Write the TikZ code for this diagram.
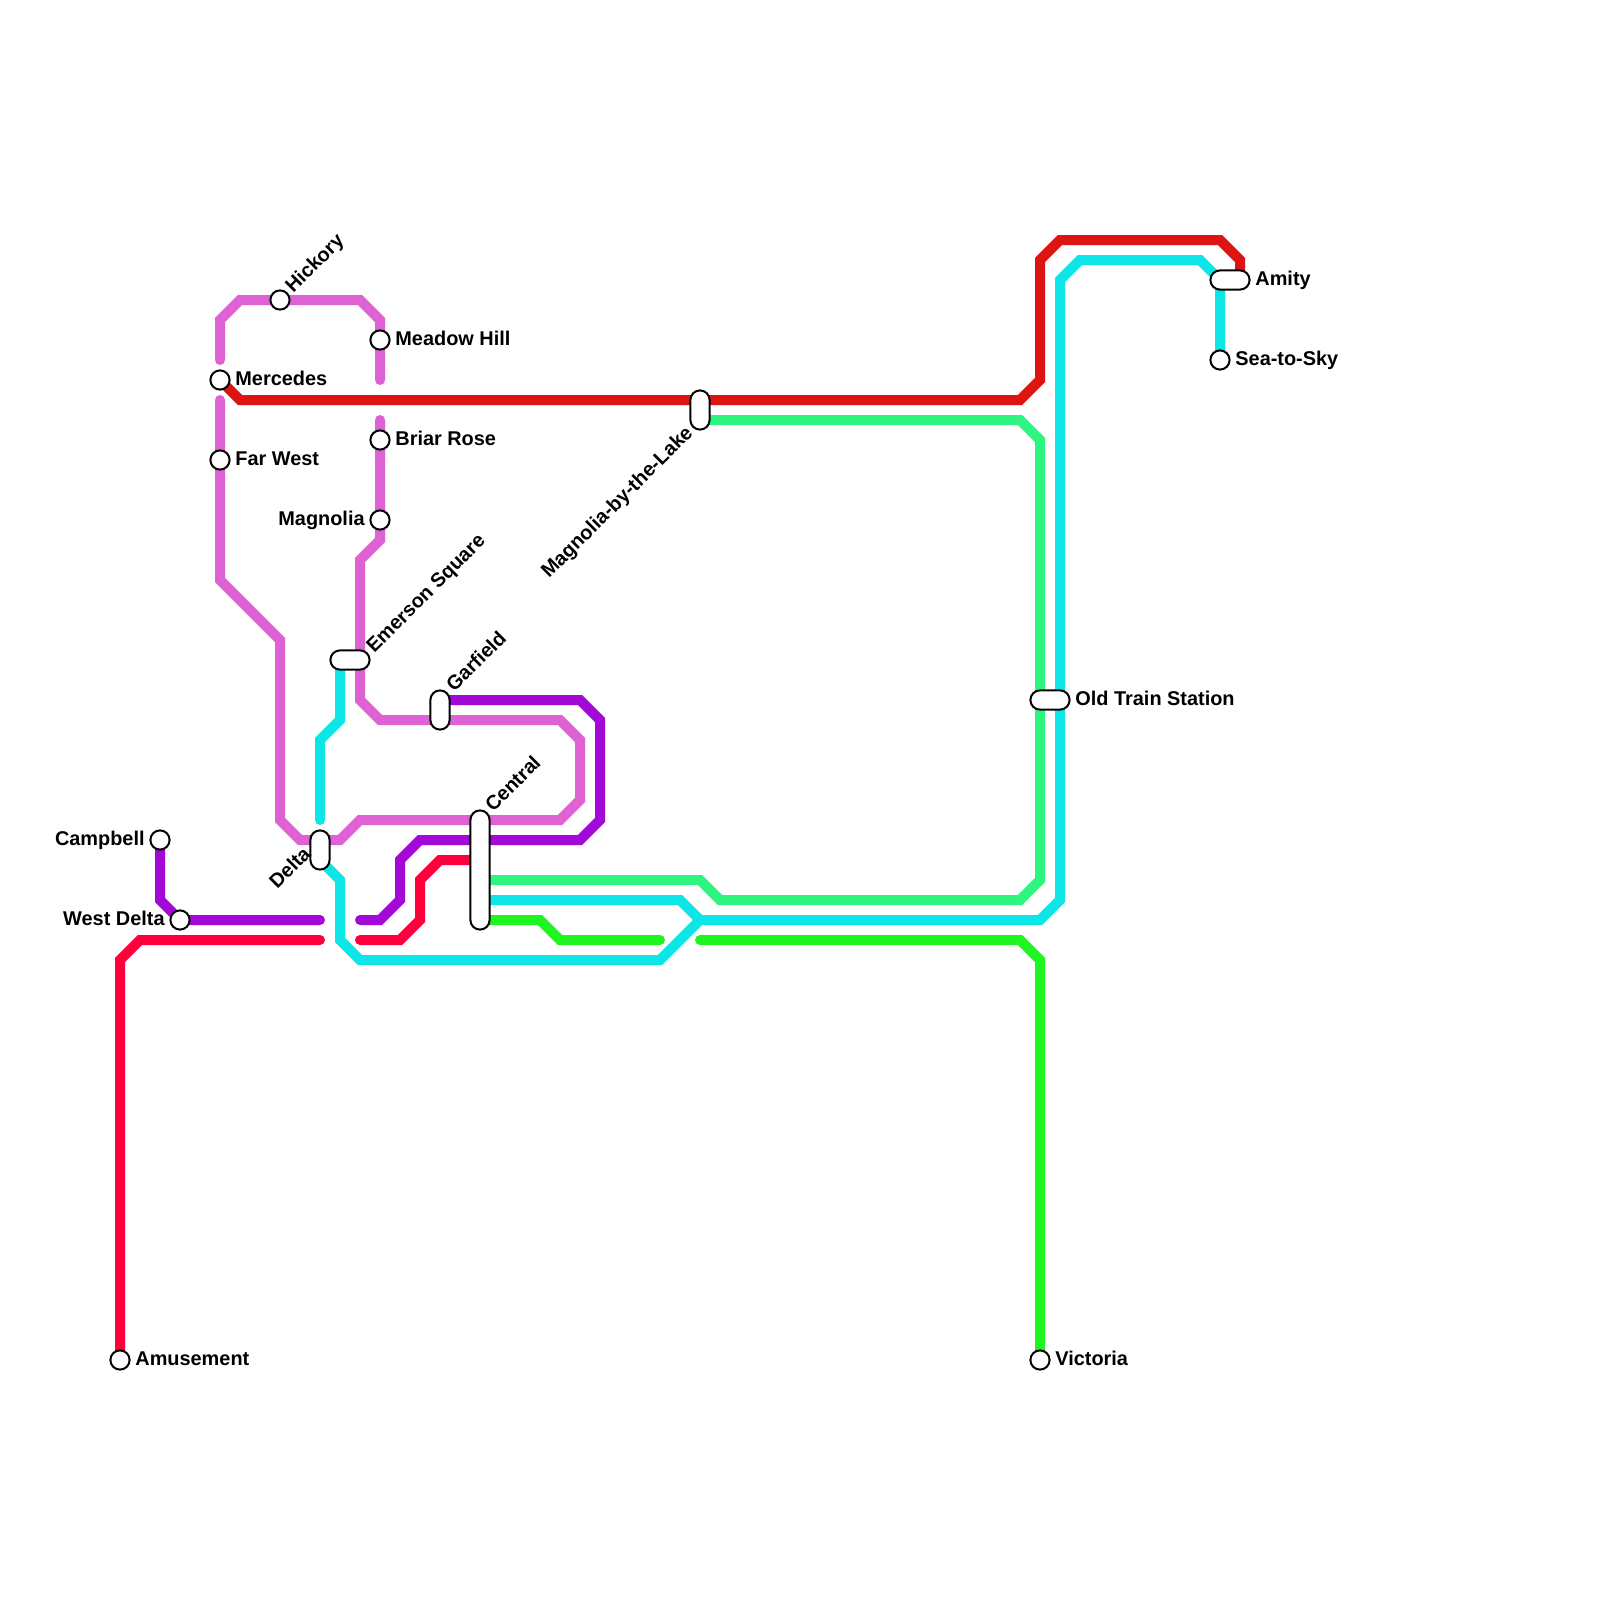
\documentclass[tikz,border=0pt]{standalone}
\usepackage{fontspec}
\setmainfont{Liberation Sans}
\usetikzlibrary{backgrounds,shapes.misc}
\definecolor{lineRose}{HTML}{FF003C}
\definecolor{lineRed}{HTML}{DC1414}
\definecolor{linePurple}{HTML}{A309D6}
\definecolor{lineOrchid}{HTML}{DE62D4}
\definecolor{lineCyan}{HTML}{0CE6E6}
\definecolor{lineMint}{HTML}{2EF580}
\definecolor{lineGreen}{HTML}{1FF51F}
\begin{document}
\begin{tikzpicture}[x=.5pt,y=-.5pt,
  route/.style={line width=5pt,line cap=round},
  stop/.style={circle,draw,fill=white,line width=1pt,inner sep=0pt,minimum size=9.6pt},
  hub/.style={rounded rectangle,draw,fill=white,line width=1pt,inner sep=0pt,minimum height=9.6pt,minimum width=#1},
  stationname/.style={font=\fontsize{9.95}{12}\bfseries\selectfont,inner sep=0pt}]
\path[use as bounding box] (0,0) rectangle (1600,1600);
% stations
\foreach \id/\xx/\yy in {amusement/120/1360,campbell/160/840,westdelta/180/920,
  mercedes/220/380,farwest/220/460,hickory/280/300,meadowhill/380/340,
  briarrose/380/440,magnolia/380/520,seatosky/1220/360,victoria/1040/1360}
  \node[stop] (\id) at (\xx,\yy) {};
\node[hub=19.6pt] (emerson) at (350,660) {};
\node[hub=19.6pt] (oldtrain) at (1050,700) {};
\node[hub=19.6pt] (amity) at (1230,280) {};
\node[hub=19.6pt,rotate=90] (garfield) at (440,710) {};
\node[hub=19.6pt,rotate=90] (delta) at (320,850) {};
\node[hub=19.6pt,rotate=90] (bythelake) at (700,410) {};
\node[hub=59.6pt,rotate=90] (central) at (480,870) {};
% labels
\foreach \id/\xx/\yy/\txt in {amusement/135/1365/Amusement,mercedes/235/385/Mercedes,
  farwest/235/465/Far West,meadowhill/395/345/Meadow Hill,briarrose/395/445/Briar Rose,
  seatosky/1235/365/Sea-to-Sky,victoria/1055/1365/Victoria,
  oldtrain/1075/705/Old Train Station,amity/1255/285/Amity}
  \node[stationname,anchor=base west] (\id-label) at (\xx,\yy) {\txt};
\foreach \id/\xx/\yy/\txt in {magnolia/365/525/Magnolia,campbell/145/845/Campbell,
  westdelta/165/925/West Delta}
  \node[stationname,anchor=base east] (\id-label) at (\xx,\yy) {\txt};
\foreach \id/\xx/\yy/\txt in {hickory/293/294/Hickory,emerson/374/654/Emerson Square,
  garfield/454/693/Garfield,central/493/813/Central}
  \node[stationname,anchor=base west,rotate=45] (\id-label) at (\xx,\yy) {\txt};
\node[stationname,anchor=base east,rotate=45] (delta-label) at (312,855) {Delta};
\node[stationname,anchor=base east,rotate=45] (bythelake-label) at (694,434) {Magnolia-by-the-Lake};
% ends of the lines
\coordinate (roseW) at (320,940);
\coordinate (roseE) at (360,940);
\coordinate (purpleW) at (320,920);
\coordinate (purpleE) at (360,920);
\coordinate (orchidA) at (220,360);
\coordinate (orchidB) at (380,380);
\coordinate (orchidC) at (380,420);
\coordinate (orchidD) at (220,400);
\coordinate (cyanEnd) at (320,820);
\coordinate (greenW) at (660,940);
\coordinate (greenE) at (700,940);
\begin{pgfonlayer}{background}
\draw[route,lineRose] (amusement.center)--(120,960)--(140,940)--(roseW);
\draw[route,lineRose] (roseE)--(400,940)--(420,920)--(420,880)--(440,860)--(central.center|-0,860);
\draw[route,linePurple] (campbell.center)--(160,900)--(westdelta.center)--(purpleW);
\draw[route,linePurple] (purpleE)--(380,920)--(400,900)--(400,860)--(420,840)--(580,840)
  --(600,820)--(600,720)--(580,700)--(garfield.center|-0,700);
\draw[route,lineOrchid] (orchidA)--(220,320)--(240,300)--(360,300)--(380,320)--(orchidB);
\draw[route,lineOrchid] (orchidC)--(380,540)--(360,560)--(360,700)--(380,720)--(560,720)
  --(580,740)--(580,800)--(560,820)--(360,820)--(340,840)--(300,840)--(280,820)--(280,640)
  --(220,580)--(orchidD);
\draw[route,lineRed] (mercedes.center)--(240,400)--(1020,400)--(1040,380)--(1040,260)
  --(1060,240)--(1220,240)--(1240,260)--(amity.center-|1240,0);
\draw[route,lineMint] (bythelake.center|-0,420)--(1020,420)--(1040,440)--(1040,880)
  --(1020,900)--(720,900)--(700,880)--(central.center|-0,880);
\draw[route,lineCyan] (central.center|-0,900)--(680,900)--(700,920);
\draw[route,lineCyan] (seatosky.center)--(1220,280)--(1200,260)--(1080,260)--(1060,280)
  --(1060,900)--(1040,920)--(700,920)--(660,960)--(360,960)--(340,940)--(340,880)--(delta.center|-0,860);
\draw[route,lineCyan] (cyanEnd)--(320,740)--(340,720)--(emerson.center-|340,0);
\draw[route,lineGreen] (central.center|-0,920)--(540,920)--(560,940)--(greenW);
\draw[route,lineGreen] (greenE)--(1020,940)--(1040,960)--(victoria.center);
\end{pgfonlayer}
\end{tikzpicture}
\end{document}
